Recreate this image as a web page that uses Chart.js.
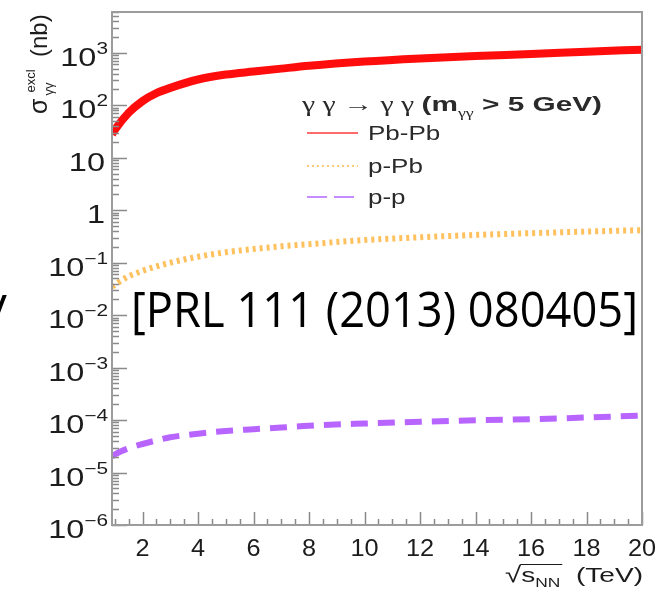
<!DOCTYPE html>
<html>
<head>
<meta charset="utf-8">
<script src="https://cdn.jsdelivr.net/npm/chart.js@4.4.1/dist/chart.umd.min.js"></script>
<style>
  html, body { margin: 0; padding: 0; background: #fff; }
  #wrap { width: 664px; height: 589px; }
</style>
</head>
<body>
<div id="wrap"><canvas id="chart" width="664" height="589"></canvas></div>
<script>
// sqrt(s_NN) in TeV
const energies = [0.9, 1, 1.5, 2, 2.5, 3, 4, 5, 6, 7, 8, 10, 12, 14, 16, 18, 20];
// exclusive gamma gamma -> gamma gamma cross sections (nb)
const pbpbValues = [28, 34, 72, 120, 170, 215, 310, 385, 440, 500, 565, 680, 780, 870, 950, 1050, 1150];
const ppbValues = [0.035, 0.038, 0.055, 0.070, 0.085, 0.100, 0.130, 0.158, 0.182, 0.205, 0.225, 0.27, 0.305, 0.338, 0.365, 0.392, 0.418];
const ppValues = [2.0e-5, 2.2e-5, 2.9e-5, 3.5e-5, 4.1e-5, 4.7e-5, 5.5e-5, 6.2e-5, 6.7e-5, 7.2e-5, 7.8e-5, 8.6e-5, 9.3e-5, 9.9e-5, 1.04e-4, 1.12e-4, 1.22e-4];

const xTicks = [2, 4, 6, 8, 10, 12, 14, 16, 18, 20];
const yTicks = [1e-6, 1e-5, 1e-4, 1e-3, 1e-2, 1e-1, 1, 10, 100, 1000];
const yTickLabels = ["10^-6", "10^-5", "10^-4", "10^-3", "10^-2", "10^-1", "1", "10", "10^2", "10^3"];

const SANS = '"Liberation Sans", Arial, sans-serif';
const SERIF = '"Liberation Serif", "DejaVu Serif", serif';

const toPoints = (vals) => energies.map((e, i) => ({ x: e, y: vals[i] }));

// draw a list of text runs, optionally fitted to a width
function drawRuns(ctx, runs, x, y, sx, fitWidth) {
  let w = 0;
  runs.forEach(r => { ctx.font = r.font; w += ctx.measureText(r.t).width; });
  if (fitWidth) sx = fitWidth / w;
  ctx.save();
  ctx.translate(x, y);
  ctx.scale(sx, 1);
  ctx.textAlign = 'left';
  ctx.textBaseline = 'alphabetic';
  let cx = 0;
  const pos = [];
  runs.forEach(r => {
    ctx.font = r.font;
    pos.push(x + cx * sx);
    ctx.fillText(r.t, cx, r.dy || 0);
    cx += ctx.measureText(r.t).width;
  });
  pos.push(x + cx * sx);
  ctx.restore();
  return pos;
}

function runsWidth(ctx, runs, sx) {
  let w = 0;
  runs.forEach(r => { ctx.font = r.font; w += ctx.measureText(r.t).width; });
  return w * sx;
}

const rootAxes = {
  id: 'rootAxes',
  afterDatasetsDraw(chart) {
    const { ctx, chartArea: a, scales: { x, y } } = chart;
    ctx.save();

    // tick marks, drawn inside the frame
    ctx.strokeStyle = '#8a8a8a';
    ctx.lineWidth = 1.5;
    ctx.beginPath();
    for (let d = -6; d <= 3; d++) {
      for (let m = 1; m <= 9; m++) {
        const v = m * Math.pow(10, d);
        if (v < y.min || v > y.max) continue;
        const py = Math.round(y.getPixelForValue(v)) + 0.5;
        const len = m === 1 ? 15 : 7;
        ctx.moveTo(a.left, py);
        ctx.lineTo(a.left + len, py);
      }
    }
    for (let v = 1; v <= 20; v += 0.5) {
      const px = Math.round(x.getPixelForValue(v)) + 0.5;
      const len = xTicks.includes(v) ? 13 : 6;
      ctx.moveTo(px, a.bottom);
      ctx.lineTo(px, a.bottom - len);
    }
    ctx.stroke();

    // frame
    ctx.strokeStyle = '#9c9c9c';
    ctx.lineWidth = 2;
    ctx.strokeRect(a.left, a.top, a.right - a.left, a.bottom - a.top);

    ctx.fillStyle = '#1c1c1c';

    // y tick labels
    yTicks.forEach((v, i) => {
      const py = y.getPixelForValue(v);
      const parts = yTickLabels[i].split('^');
      const runs = [{ t: parts[0], font: '25px ' + SANS }];
      if (parts[1]) runs.push({ t: parts[1].replace('-', '\u2212'), font: '16px ' + SANS, dy: -12 });
      const w = runsWidth(ctx, runs, 1.3);
      const right = parts[1] ? 108 : 105;
      drawRuns(ctx, runs, right - w, py + 13, 1.3);
    });

    // x tick labels
    xTicks.forEach(v => {
      const px = x.getPixelForValue(v);
      const runs = [{ t: String(v), font: '23px ' + SANS }];
      const w = runsWidth(ctx, runs, 1.1);
      drawRuns(ctx, runs, px - w / 2, 556, 1.1);
    });

    // x title: sqrt(s_NN) (TeV)
    const xr = [
      { t: '\u221A', font: '22px ' + SANS },
      { t: 's', font: '21px ' + SANS },
      { t: 'NN', font: '13px ' + SANS, dy: 5 },
      { t: '  (TeV)', font: '21px ' + SANS }
    ];
    const p = drawRuns(ctx, xr, 505, 582, 1, 138);
    ctx.strokeStyle = '#1c1c1c';
    ctx.lineWidth = 1.2;
    ctx.beginPath();
    ctx.moveTo(p[1] - 1, 564.5);
    ctx.lineTo(p[3] + 2, 564.5);
    ctx.stroke();

    // y title, rotated
    ctx.save();
    ctx.translate(47, 114);
    ctx.rotate(-Math.PI / 2);
    ctx.textBaseline = 'alphabetic';
    ctx.font = '25px ' + SANS;
    ctx.fillText('\u03C3', 0, 0);
    const sw = ctx.measureText('\u03C3').width;
    ctx.font = '13px ' + SANS;
    ctx.fillText('excl', sw + 6, -12);
    ctx.fillText('\u03B3\u03B3', sw + 3, 6);
    ctx.font = '24px ' + SANS;
    ctx.fillText('(nb)', 57, 0);
    ctx.restore();

    ctx.restore();
  }
};

const legendBox = {
  id: 'legendBox',
  afterDraw(chart) {
    const { ctx } = chart;
    ctx.save();
    ctx.fillStyle = '#2a2a2a';
    const head = [
      { t: '\u03B3 \u03B3 \u2192 \u03B3 \u03B3 ', font: '20px ' + SERIF },
      { t: '(m', font: 'bold 20px ' + SANS },
      { t: '\u03B3\u03B3', font: '12px ' + SERIF, dy: 6 },
      { t: ' > 5 GeV)', font: 'bold 20px ' + SANS }
    ];
    drawRuns(ctx, head, 302, 111, 1, 300);

    const rows = [133, 166, 197];
    const sampleStyle = [
      { color: '#ff6b6b', dash: [] },
      { color: '#ffc97a', dash: [2, 3] },
      { color: '#c58cff', dash: [20, 7] }
    ];
    chart.data.datasets.forEach((ds, i) => {
      const yy = rows[i];
      ctx.strokeStyle = sampleStyle[i].color;
      ctx.lineWidth = 2;
      ctx.setLineDash(sampleStyle[i].dash);
      ctx.beginPath();
      ctx.moveTo(307, yy);
      ctx.lineTo(358, yy);
      ctx.stroke();
      ctx.setLineDash([]);
      drawRuns(ctx, [{ t: ds.label, font: '20px ' + SANS }], 368, yy + 7, 1.3);
    });

    // overlaid reference note
    ctx.fillStyle = '#000';
    drawRuns(ctx, [{ t: '[PRL 111 (2013) 080405]', font: '50px "Open Sans", sans-serif' }], 131, 327, 1, 507);
    ctx.font = '50px "Open Sans", sans-serif';
    ctx.textAlign = 'right';
    ctx.fillText('\u03B3', 7, 322);
    ctx.restore();
  }
};

new Chart(document.getElementById('chart'), {
  type: 'line',
  data: {
    datasets: [
      {
        label: 'Pb-Pb',
        data: toPoints(pbpbValues),
        borderColor: '#ff0d0d',
        borderWidth: 8,
        pointRadius: 0,
        cubicInterpolationMode: 'monotone',
        fill: false
      },
      {
        label: 'p-Pb',
        data: toPoints(ppbValues),
        borderColor: 'rgba(255, 190, 85, 0.95)',
        borderWidth: 6,
        borderDash: [3, 4],
        borderCapStyle: 'butt',
        pointRadius: 0,
        cubicInterpolationMode: 'monotone',
        fill: false
      },
      {
        label: 'p-p',
        data: toPoints(ppValues),
        borderColor: '#b865ff',
        borderWidth: 6,
        borderDash: [17, 10],
        pointRadius: 0,
        cubicInterpolationMode: 'monotone',
        fill: false
      }
    ]
  },
  options: {
    responsive: false,
    animation: false,
    layout: { padding: { left: 112, top: 12, right: 22, bottom: 64 } },
    plugins: { legend: { display: false }, tooltip: { enabled: false } },
    scales: {
      x: { type: 'linear', min: 0.9, max: 20, display: false },
      y: { type: 'logarithmic', min: 1e-6, max: 6000, display: false }
    }
  },
  plugins: [rootAxes, legendBox]
});
</script>
</body>
</html>
